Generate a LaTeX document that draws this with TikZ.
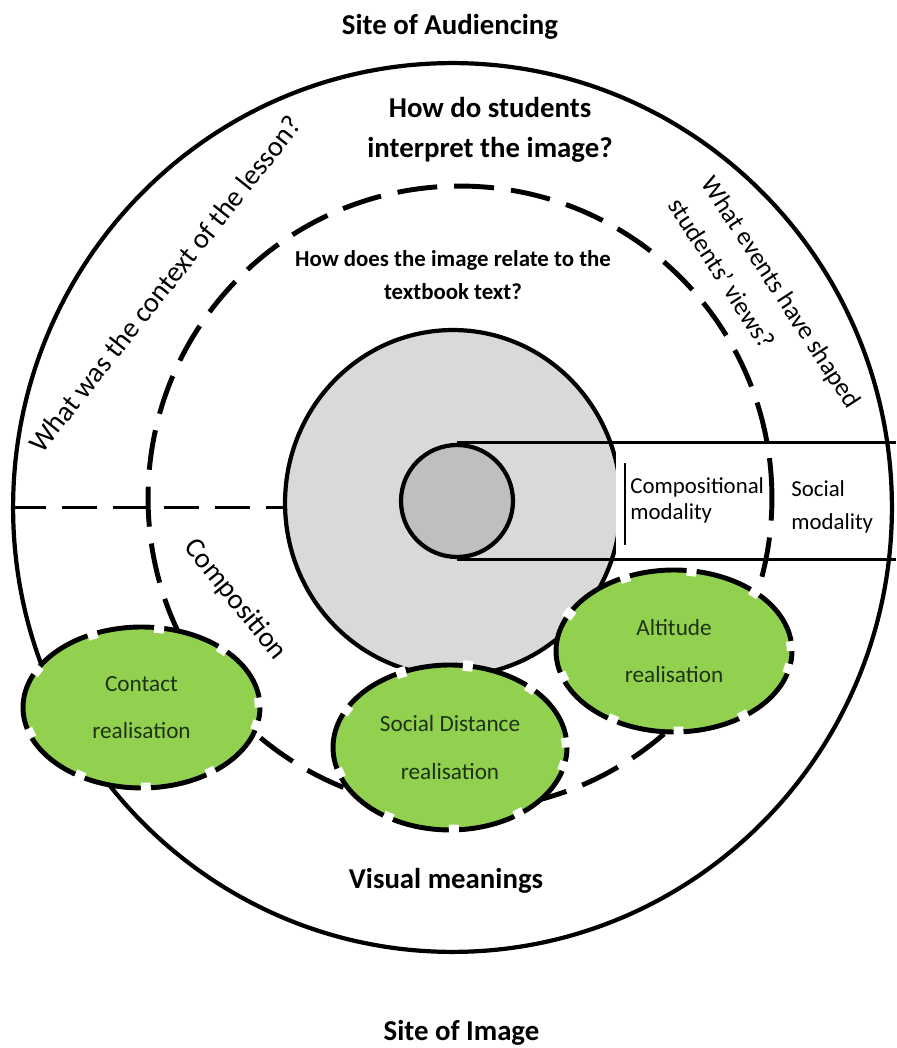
\documentclass[tikz,border=0pt]{standalone}
\usepackage{fontspec}
\setmainfont{Carlito}
\usepackage{tikz}
\usepackage{xcolor}
\usetikzlibrary{shapes.geometric, positioning, calc}

\definecolor{leaf}{HTML}{92D050}
\definecolor{disc}{HTML}{D9D9D9}
\definecolor{hub}{HTML}{BFBFBF}
\definecolor{ink}{HTML}{1E3314}

\begin{document}
\begin{tikzpicture}[x=0.02cm,y=0.02cm,line join=round]
  \tikzstyle{ring}=[draw=black,line width=2.4pt,inner sep=0pt]
  \tikzstyle{dashring}=[circle,draw=black,line width=2.8pt,dash pattern=on 0.8cm off 0.34cm,minimum size=12.48cm,inner sep=0pt]
  \tikzstyle{realis}=[ellipse,fill=leaf,draw=black,line width=2.8pt,text=ink,align=center,inner sep=0pt,
      font={\fontsize{13.2}{27}\selectfont},
      postaction={draw=white,line width=6pt,dash pattern=on 0.2cm off 1.15cm}]
  \tikzstyle{head}=[font={\fontsize{16.4}{22.7}\selectfont\bfseries},align=center]
  \tikzstyle{subhead}=[font={\fontsize{13}{18.7}\selectfont\bfseries},align=center]
  \tikzstyle{query}=[font={\fontsize{16.2}{20}\selectfont},align=left]
  \tikzstyle{modal}=[font={\fontsize{13}{14.5}\selectfont},align=left,anchor=west,inner sep=0pt]

  \useasboundingbox (0,0) rectangle (896,1048);

  \node[ring,ellipse,fill=disc,minimum width=6.72cm,minimum height=6.92cm] (image) at (453,545) {};
  \fill[white] (616,492.5) rectangle (888,600.5);
  \node[ring,ellipse,minimum width=17.58cm,minimum height=17.78cm] (site) at (452.5,540.5) {};
  \node[dashring] (frame) at (460,550) {};
  \node[ring,circle,fill=hub,minimum size=2.24cm] (core) at (457,547) {};
  \coordinate (rim) at (896,547);
  \draw[line width=1.7pt] (core.north) -- (core.north -| rim);
  \draw[line width=1.7pt] (core.south) -- (core.south -| rim);
  \draw[line width=1.1pt] (625,503) -- (625,585);
  \draw[line width=2pt,dash pattern=on 0.7cm off 0.32cm] (site.west) -- (site.west -| image.west);

  \node[head] (audience) at (450,1021) {Site of Audiencing};
  \node[head] (interpret) at (490,918) {How do students\\interpret the image?};
  \node[subhead] (relate) at (453,772.5) {How does the image relate to the\\textbook text?};
  \node[query,rotate=51.6] (context) at (165,764) {What was the context of the lesson?};
  \node[query,font={\fontsize{14.7}{22.7}\selectfont},rotate=-57] (events) at (765,745) {What events have shaped\\students’ views?};
  \node[query,rotate=-51] (composition) at (235,448) {Composition};
  \node[modal] (compmod) at (630,547.5) {Compositional\\modality};
  \node[modal,font={\fontsize{13}{18.7}\selectfont}] (socmod) at (791,541.5) {Social\\modality};
  \node[head] (visual) at (446,167) {Visual meanings};
  \node[head] (imagesite) at (461.5,15) {Site of Image};

  \node[realis,minimum width=4.74cm,minimum height=3.22cm] (contact) at (141.5,340.5) {Contact\\realisation};
  \node[realis,minimum width=4.68cm,minimum height=3.3cm] (distance) at (450,300.5) {Social Distance\\realisation};
  \node[realis,minimum width=4.72cm,minimum height=3.24cm] (altitude) at (674,397) {Altitude\\realisation};
\end{tikzpicture}
\end{document}
